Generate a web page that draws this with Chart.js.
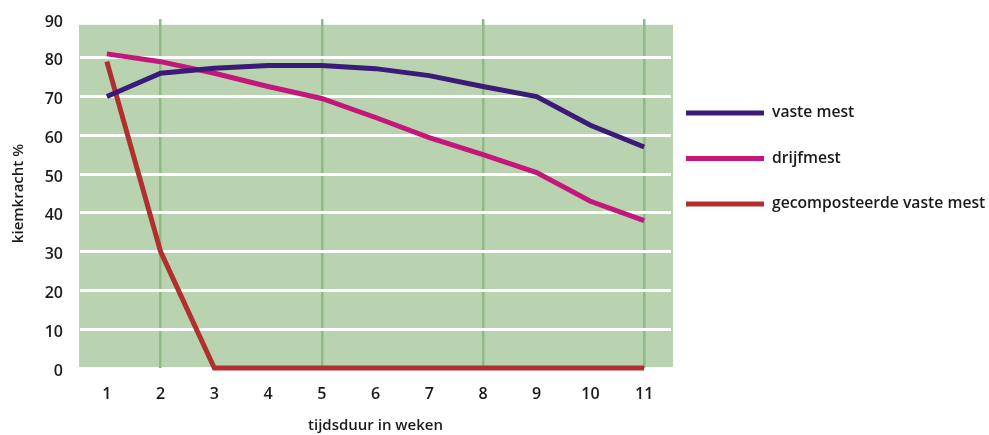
<!DOCTYPE html>
<html>
<head>
<meta charset="utf-8">
<script src="https://cdn.jsdelivr.net/npm/chart.js@4/dist/chart.umd.min.js"></script>
<style>
  html, body { margin: 0; padding: 0; background: #ffffff; }
  #wrap { width: 989px; height: 435px; }
</style>
</head>
<body>
<div id="wrap"><canvas id="c" width="989" height="435"></canvas></div>
<script>
const weeks = ['1','2','3','4','5','6','7','8','9','10','11'];
const vasteMest = [70, 76, 77.3, 78, 78, 77.2, 75.4, 72.6, 70, 62.6, 57];
const drijfmest = [81, 79, 76, 72.6, 69.5, 64.6, 59.4, 55, 50.4, 43, 38];
const gecomposteerd = [79, 30, 0, 0, 0, 0, 0, 0, 0, 0, 0];
const seriesNames = ['vaste mest', 'drijfmest', 'gecomposteerde vaste mest'];
const yAxisTitle = 'kiemkracht %';
const xAxisTitle = 'tijdsduur in weken';

const FONT = '"Open Sans", "DejaVu Sans", sans-serif';
const TEXT = '#1a1a1a';

const bgPlugin = {
  id: 'greenBg',
  beforeDraw(chart) {
    const {ctx, chartArea} = chart;
    const y = chart.scales.y;
    const top = y.getPixelForValue(88.5);
    ctx.save();
    ctx.fillStyle = '#b9d3b1';
    ctx.fillRect(chartArea.left - 1, top, chartArea.right - chartArea.left + 3, y.getPixelForValue(0) - top - 1);
    ctx.restore();
  }
};

const legendPlugin = {
  id: 'sideLegend',
  afterDraw(chart) {
    const {ctx, chartArea} = chart;
    const x0 = chartArea.right + 15;
    const lineLen = 78;
    const firstY = chartArea.top + 94;
    const step = 45.5;
    ctx.save();
    ctx.font = '600 15.7px ' + FONT;
    ctx.textBaseline = 'middle';
    ctx.textAlign = 'left';
    chart.data.datasets.forEach((ds, i) => {
      const yy = firstY + i * step;
      ctx.fillStyle = ds.borderColor;
      ctx.fillRect(x0, yy - 2.5, lineLen, 5);
      ctx.fillStyle = TEXT;
      ctx.fillText(ds.label, x0 + lineLen + 8, yy);
    });
    ctx.restore();
  }
};

new Chart(document.getElementById('c'), {
  type: 'line',
  data: {
    labels: weeks,
    datasets: [
      { label: seriesNames[0], data: vasteMest, borderColor: '#3b1a78', backgroundColor: '#3b1a78' },
      { label: seriesNames[1], data: drijfmest, borderColor: '#c4177b', backgroundColor: '#c4177b' },
      { label: seriesNames[2], data: gecomposteerd, borderColor: '#b0302f', backgroundColor: '#b0302f' }
    ].map(d => Object.assign(d, {
      borderWidth: 5, pointRadius: 0, tension: 0, fill: false, clip: false,
      borderJoinStyle: 'miter', borderCapStyle: 'butt'
    }))
  },
  options: {
    responsive: false,
    animation: false,
    layout: { padding: { top: 0, right: 318, bottom: 0, left: 4 } },
    plugins: {
      tooltip: { enabled: false },
      legend: { display: false }
    },
    scales: {
      x: {
        type: 'category',
        offset: true,
        afterFit: s => { s.height = 67; },
        grid: {
          offset: false,
          drawTicks: false,
          lineWidth: 2.5,
          color: ctx => ([1, 4, 7, 10].includes(ctx.index) ? '#8dbb86' : 'rgba(0,0,0,0)')
        },
        border: { display: false },
        ticks: { color: TEXT, padding: 17, font: { family: FONT, size: 16, weight: '600' } },
        title: { display: true, text: xAxisTitle, color: TEXT, padding: { top: 13, bottom: 0 }, font: { family: FONT, size: 15, weight: '600' } }
      },
      y: {
        min: 0, max: 90,
        afterFit: s => { s.width = 76; s.paddingTop = 19; },
        grid: {
          drawTicks: false,
          lineWidth: 3,
          color: ctx => (ctx.tick && ctx.tick.value > 0 && ctx.tick.value < 90 ? '#ffffff' : 'rgba(0,0,0,0)')
        },
        border: { display: false },
        ticks: { stepSize: 10, color: TEXT, padding: 17, labelOffset: 3, font: { family: FONT, size: 16, weight: '600' } },
        title: { display: true, text: yAxisTitle, color: TEXT, padding: { top: 6, bottom: 17 }, font: { family: FONT, size: 15, weight: '600' } }
      }
    }
  },
  plugins: [bgPlugin, legendPlugin]
});
</script>
</body>
</html>
